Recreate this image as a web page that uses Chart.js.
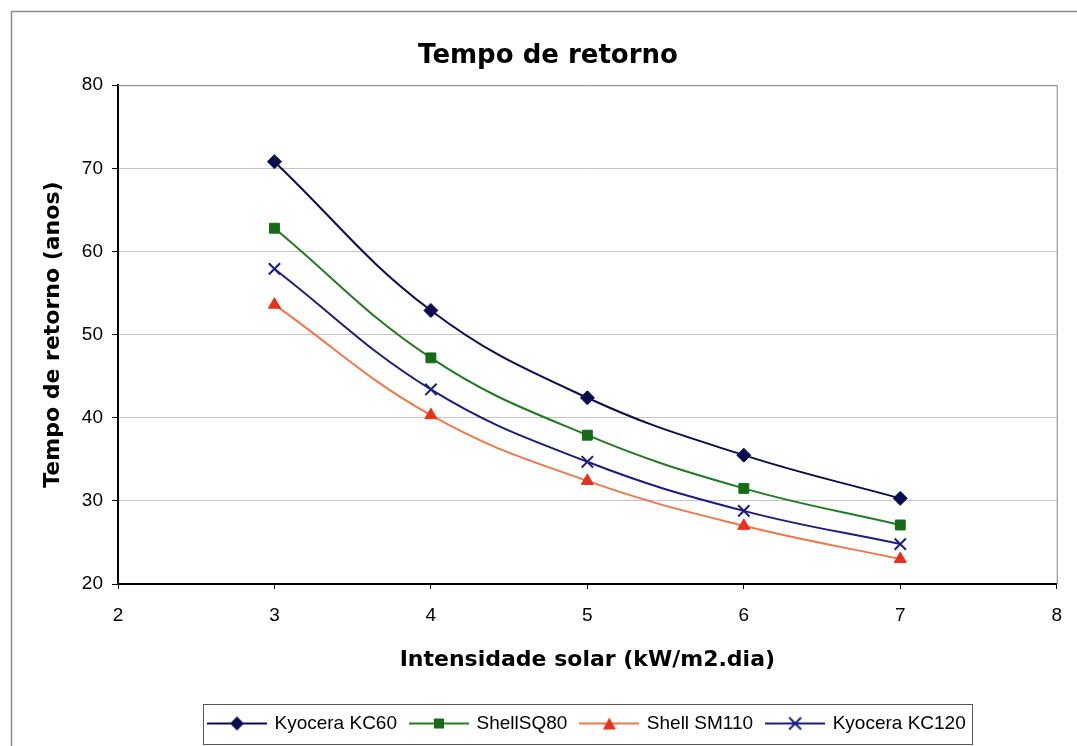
<!DOCTYPE html>
<html>
<head>
<meta charset="utf-8">
<script src="https://cdn.jsdelivr.net/npm/chart.js@4.4.0/dist/chart.umd.min.js"></script>
<style>
  html, body { margin: 0; padding: 0; background: #fff; }
  #wrap { width: 1077px; height: 746px; position: relative; }
</style>
</head>
<body>
<div id="wrap"><canvas id="chart"></canvas></div>
<script>
// ---------- DATA ----------
const intensidade = [3, 4, 5, 6, 7];
const kc60  = [70.8, 52.9, 42.4, 35.5, 30.3];
const sq80  = [62.8, 47.2, 37.9, 31.5, 27.1];
const sm110 = [53.6, 40.3, 32.4, 27.0, 23.0];
const kc120 = [57.9, 43.4, 34.7, 28.8, 24.8];
const seriesNames = ["Kyocera KC60", "ShellSQ80", "Shell SM110", "Kyocera KC120"];
const xTicks = [2, 3, 4, 5, 6, 7, 8];
const yTicks = [20, 30, 40, 50, 60, 70, 80];

const TITLE_FONT = "'DejaVu Sans', sans-serif";
const TEXT_FONT = "'Liberation Sans', Arial, sans-serif";

// ---------- LEGEND ICONS (line + marker) ----------
function makeIcon(lineColor, markColor, style) {
  const c = document.createElement("canvas");
  c.width = 60; c.height = 18;
  const g = c.getContext("2d");
  g.strokeStyle = lineColor; g.lineWidth = 2;
  g.beginPath(); g.moveTo(0, 9); g.lineTo(60, 9); g.stroke();
  g.fillStyle = markColor; g.strokeStyle = markColor;
  if (style === "diamond") {
    g.beginPath(); g.moveTo(30, 2); g.lineTo(37, 9); g.lineTo(30, 16); g.lineTo(23, 9); g.closePath(); g.fill();
  } else if (style === "square") {
    g.fillRect(25, 4, 10, 10);
  } else if (style === "triangle") {
    g.beginPath(); g.moveTo(30, 3); g.lineTo(36.5, 15); g.lineTo(23.5, 15); g.closePath(); g.fill();
  } else {
    g.lineWidth = 2;
    g.beginPath(); g.moveTo(24, 3); g.lineTo(36, 15); g.moveTo(36, 3); g.lineTo(24, 15); g.stroke();
  }
  return c;
}

const styles = [
  { line: "#0b0b52", mark: "#0b0b52", pt: "rectRot", r: 7, icon: "diamond" },
  { line: "#1f7d1f", mark: "#176b17", pt: "rect", r: 7, icon: "square" },
  { line: "#f07848", mark: "#e8301c", pt: "triangle", r: 7, icon: "triangle" },
  { line: "#1c1c84", mark: "#1c1c84", pt: "crossRot", r: 8, icon: "x" }
];
const icons = styles.map(s => makeIcon(s.line, s.mark, s.icon));

const seriesValues = [kc60, sq80, sm110, kc120];
const datasets = seriesValues.map((vals, i) => ({
  label: seriesNames[i],
  data: intensidade.map((x, j) => ({ x, y: vals[j] })),
  borderColor: styles[i].line,
  backgroundColor: styles[i].mark,
  pointBorderColor: styles[i].mark,
  pointBackgroundColor: styles[i].mark,
  pointStyle: styles[i].pt,
  pointRadius: styles[i].r,
  pointBorderWidth: styles[i].pt === "crossRot" ? 2 : 1,
  borderWidth: 2,
  tension: 0.4,
  fill: false
}));

// ---------- FRAMES ----------
const framePlugin = {
  id: "frame",
  beforeDraw(chart) {
    const ctx = chart.ctx;
    ctx.save();
    ctx.fillStyle = "#fff";
    ctx.fillRect(0, 0, chart.width, chart.height);
    ctx.restore();
  },
  afterLayout(chart) {
    // center legend under plot area
    const a = chart.chartArea, lg = chart.legend;
    const shift = (a.left + a.right) / 2 - (lg.left + lg.right) / 2;
    lg.left += shift; lg.right += shift;
  },
  beforeDatasetsDraw(chart) {
    const { ctx, chartArea: a } = chart;
    ctx.save();
    ctx.strokeStyle = "#808080"; ctx.lineWidth = 1;
    ctx.beginPath();
    ctx.moveTo(a.left, a.top + 0.5);
    ctx.lineTo(a.right + 0.5, a.top + 0.5);
    ctx.lineTo(a.right + 0.5, a.bottom);
    ctx.stroke();
    ctx.restore();
  },
  afterDraw(chart) {
    const { ctx, legend } = chart;
    ctx.save();
    ctx.strokeStyle = "#8c8c8c"; ctx.lineWidth = 1.5;
    ctx.strokeRect(11.5, 11.5, chart.width + 20, chart.height + 20);
    const hb = legend.legendHitBoxes;
    const l = Math.min(...hb.map(h => h.left)) - 6;
    const r = Math.max(...hb.map(h => h.left + h.width)) + 6;
    const pad = legend.options.labels.padding;
    const cy = legend.top + pad + legend.options.labels.font.size / 2;
    ctx.strokeStyle = "#555"; ctx.lineWidth = 1;
    ctx.strokeRect(Math.round(l) + 0.5, Math.round(cy - 20) + 0.5, Math.round(r - l), 40);
    ctx.restore();
  }
};

new Chart(document.getElementById("chart"), {
  type: "line",
  data: { datasets },
  plugins: [framePlugin],
  options: {
    responsive: true,
    maintainAspectRatio: false,
    animation: false,
    layout: { padding: { left: 38, right: 19, top: 0, bottom: 3 } },
    plugins: {
      title: {
        display: true,
        text: "Tempo de retorno",
        color: "#000",
        font: { family: TITLE_FONT, size: 26, weight: "bold" },
        padding: { top: 41, bottom: 13 }
      },
      legend: {
        position: "bottom",
        labels: {
          usePointStyle: true,
          pointStyleWidth: 56,
          padding: 14,
          color: "#000",
          font: { family: TEXT_FONT, size: 19 },
          generateLabels(chart) {
            const items = Chart.defaults.plugins.legend.labels.generateLabels(chart);
            items.forEach((it, i) => { it.pointStyle = icons[i]; });
            return items;
          }
        }
      },
      tooltip: { enabled: false }
    },
    scales: {
      x: {
        type: "linear",
        min: xTicks[0],
        max: xTicks[xTicks.length - 1],
        afterFit(scale) { scale.height = 116; },
        ticks: { stepSize: 1, color: "#000", padding: 15, font: { family: TEXT_FONT, size: 19 } },
        grid: { drawOnChartArea: false, tickLength: 5, tickColor: "#000" },
        border: { color: "#000", width: 2 },
        title: {
          display: true,
          text: "Intensidade solar (kW/m2.dia)",
          color: "#000",
          font: { family: TITLE_FONT, size: 22, weight: "bold" },
          padding: { top: 0, bottom: 27 }
        }
      },
      y: {
        min: yTicks[0],
        max: yTicks[yTicks.length - 1],
        afterFit(scale) { scale.width = 80; },
        ticks: { stepSize: 10, color: "#000", padding: 9, font: { family: TEXT_FONT, size: 19 } },
        grid: { color: "#c4c4c4", lineWidth: 1, tickLength: 6, tickColor: "#000" },
        border: { color: "#000", width: 2 },
        title: {
          display: true,
          text: "Tempo de retorno (anos)",
          color: "#000",
          font: { family: TITLE_FONT, size: 22, weight: "bold" },
          padding: { top: 2, bottom: 0 }
        }
      }
    }
  }
});
</script>
</body>
</html>
